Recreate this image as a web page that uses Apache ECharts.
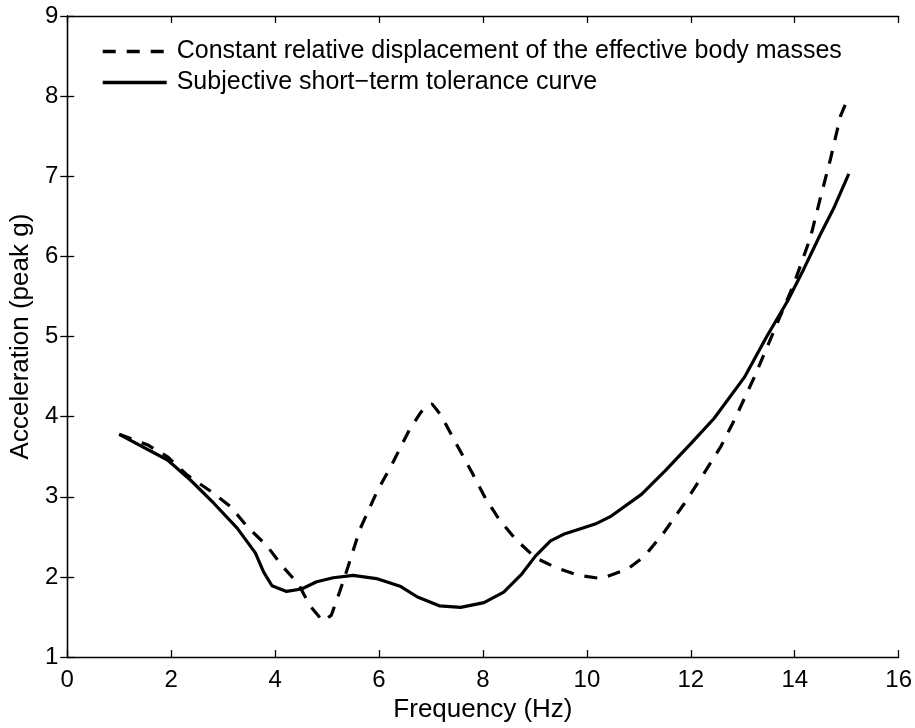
<!DOCTYPE html>
<html><head><meta charset="utf-8">
<script src="https://cdn.jsdelivr.net/npm/echarts@6/dist/echarts.min.js"></script>
<style>html,body{margin:0;padding:0;background:#fff;overflow:hidden}#c{width:915px;height:728px}</style>
</head><body><div id="c"></div>
<script>
var dashedName = 'Constant relative displacement of the effective body masses';
var solidName = 'Subjective short\u2212term tolerance curve';
var dashedX = [1.0,1.54,1.93,2.31,2.76,3.14,3.46,3.84,4.16,4.45,4.67,4.92,5.08,5.24,5.40,5.63,5.95,6.26,6.58,6.81,7.02,7.19,7.48,7.80,8.05,8.31,8.63,9.01,9.39,9.84,10.28,10.79,11.11,11.50,11.88,12.26,12.58,12.84,13.22,13.60,13.98,14.30,14.49,14.69,14.88,15.04];
var dashedY = [3.78,3.65,3.50,3.27,3.07,2.88,2.63,2.39,2.12,1.91,1.64,1.45,1.52,1.81,2.12,2.59,3.05,3.42,3.83,4.06,4.16,4.02,3.67,3.29,2.98,2.72,2.47,2.24,2.12,2.02,1.98,2.10,2.26,2.57,2.92,3.30,3.63,3.96,4.49,5.07,5.65,6.23,6.72,7.22,7.75,8.00];
var solidX = [1.0,1.93,2.37,2.82,3.27,3.62,3.78,3.94,4.22,4.51,4.80,5.12,5.50,5.95,6.42,6.74,7.16,7.57,8.02,8.40,8.75,9.01,9.30,9.58,10.16,10.47,11.05,11.50,12.01,12.45,13.03,13.47,13.86,14.18,14.49,14.75,15.04];
var solidY = [3.78,3.46,3.21,2.92,2.61,2.30,2.06,1.89,1.82,1.85,1.94,1.99,2.02,1.98,1.88,1.75,1.64,1.62,1.68,1.81,2.04,2.26,2.45,2.54,2.66,2.76,3.03,3.32,3.67,3.98,4.49,5.01,5.44,5.85,6.27,6.60,7.03];
var xTicks = [0,2,4,6,8,10,12,14,16];
var yTicks = [1,2,3,4,5,6,7,8,9];

function pairs(xs, ys){ return xs.map(function(x,i){ return [x, ys[i]]; }); }
var FONT = 'Liberation Sans, Arial, Helvetica, sans-serif';
var axisLine = {show:true, lineStyle:{color:'#000', width:1.3}};
var tick = {show:true, inside:true, length:7, lineStyle:{color:'#000', width:1.3}};

var chart = echarts.init(document.getElementById('c'), null, {renderer:'canvas'});
chart.setOption({
  animation:false,
  backgroundColor:'#fff',
  grid:{left:66, right:13, top:16, bottom:66, containLabel:false},
  legend:{
    orient:'vertical', left:96, top:34, itemWidth:64, itemHeight:14, itemGap:6,
    itemStyle:{opacity:0},
    lineStyle:{width:3.4},
    textStyle:{fontFamily:FONT, fontSize:25, color:'#000', padding:[0,0,0,5]},
    data:[dashedName, solidName]
  },
  xAxis:[{
    type:'value', min:xTicks[0], max:xTicks[xTicks.length-1], interval:2,
    name:'Frequency (Hz)', nameLocation:'middle', nameGap:37,
    nameTextStyle:{fontFamily:FONT, fontSize:26, color:'#000'},
    axisLine:axisLine, axisTick:tick, splitLine:{show:false},
    axisLabel:{fontFamily:FONT, fontSize:24, color:'#000', margin:11}
  },{
    type:'value', position:'top', min:0, max:16, interval:2,
    axisLine:axisLine, axisTick:tick, axisLabel:{show:false}, splitLine:{show:false}
  }],
  yAxis:[{
    type:'value', min:yTicks[0], max:yTicks[yTicks.length-1], interval:1,
    name:'Acceleration (peak g)', nameLocation:'middle', nameGap:31, nameRotate:90,
    nameTextStyle:{fontFamily:FONT, fontSize:26, color:'#000'},
    axisLine:axisLine, axisTick:tick, splitLine:{show:false},
    axisLabel:{fontFamily:FONT, fontSize:24, color:'#000', margin:9}
  },{
    type:'value', position:'right', min:1, max:9, interval:1,
    axisLine:axisLine, axisTick:tick, axisLabel:{show:false}, splitLine:{show:false}
  }],
  series:[{
    name:dashedName, type:'line', data:pairs(dashedX, dashedY), symbol:'none',
    lineStyle:{color:'#000', width:3.2, type:[13,11]}, itemStyle:{color:'#000'}
  },{
    name:solidName, type:'line', data:pairs(solidX, solidY), symbol:'none',
    lineStyle:{color:'#000', width:3.2}, itemStyle:{color:'#000'}
  }]
});
</script></body></html>
